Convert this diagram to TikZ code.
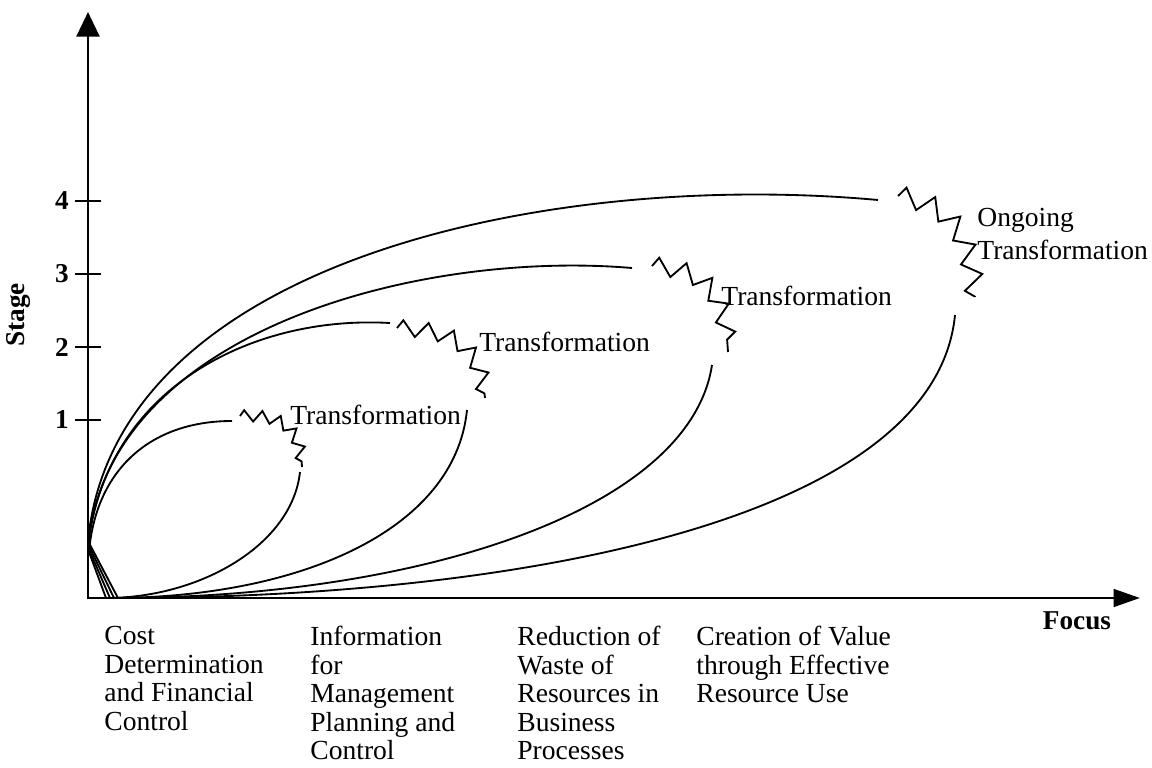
\documentclass[tikz,border=0pt]{standalone}
\usepackage{fontspec}
\setmainfont{Liberation Serif}
\usetikzlibrary{arrows.meta,decorations.pathmorphing}

\begin{document}
\begin{tikzpicture}[x=0.02cm,y=-0.02cm,
  axis/.style={line width=1.6pt},
  tickmark/.style={line width=1pt},
  curve/.style={line width=1.05pt},
  zig/.style 2 args={line width=1.05pt, line join=miter, decorate,
    decoration={zigzag, segment length=#1, amplitude=#2}},
  lbl/.style={font=\fontsize{15.7pt}{18.7pt}\selectfont, inner sep=0pt},
  cat/.style={font=\fontsize{15.7pt}{16.2pt}\selectfont, inner sep=0pt,
    anchor=north west, align=left},
  bold/.style={font=\fontsize{15.5pt}{18pt}\selectfont\bfseries, inner sep=0pt}]
\useasboundingbox (0,0) rectangle (1152,767);

% axes
\coordinate (O) at (88,598);
\coordinate (ytop) at (88,12);
\coordinate (xend) at (1140,598);
\draw[axis, {Triangle[length=14pt,width=13pt]}-{Triangle[length=15pt,width=10pt]}]
  (ytop) -- (O) -- (xend);

% stage ticks and numbers
\foreach \s/\y in {4/201,3/274,2/347,1/420}{
  \draw[tickmark] (75,\y) -- (101,\y);
  \node[bold] (n\s) at (62,\y) {\s};
}
\node[bold, rotate=90] (stage) at (18,315) {Stage};
\node[bold] (focus) at (1077,621) {Focus};

% loop 1
\coordinate (a1) at (89,552);
\coordinate (b1) at (232,421);
\draw[curve] (a1) .. controls (96,470) and (150,421) .. (b1);
\coordinate (z1s) at (240,416);
\coordinate (z1e) at (302,467);
\draw[zig={10pt}{3.2pt}] (z1s) .. controls (285,414) and (300,430) .. (z1e);
\coordinate (c1) at (300,472);
\coordinate (d1) at (106,598);
\draw[curve] (c1) .. controls (292,545) and (200,598) .. (d1) -- (a1);

% loop 2
\coordinate (a2) at (88,547);
\coordinate (b2) at (390,323);
\draw[curve] (a2) .. controls (105,390) and (250,315) .. (b2);
\coordinate (z2s) at (397,328);
\coordinate (z2e) at (485,398);
\draw[zig={14pt}{4.5pt}] (z2s) .. controls (460,330) and (480,350) .. (z2e);
\coordinate (c2) at (467,410);
\coordinate (d2) at (110,598);
\draw[curve] (c2) .. controls (455,530) and (300,598) .. (d2) -- (a2);

% loop 3
\coordinate (a3) at (88,544);
\coordinate (b3) at (632,268);
\draw[curve] (a3) .. controls (110,330) and (420,250) .. (b3);
\coordinate (z3s) at (652,266);
\coordinate (z3e) at (728,352);
\draw[zig={15pt}{5pt}] (z3s) .. controls (705,270) and (725,290) .. (z3e);
\coordinate (c3) at (712,365);
\coordinate (d3) at (114,598);
\draw[curve] (c3) .. controls (690,510) and (420,598) .. (d3) -- (a3);

% loop 4
\coordinate (a4) at (88,541);
\coordinate (b4) at (878,200);
\draw[curve] (a4) .. controls (115,260) and (550,170) .. (b4);
\coordinate (z4s) at (898,196);
\coordinate (z4e) at (975,297);
\draw[zig={16pt}{5.5pt}] (z4s) .. controls (950,205) and (970,230) .. (z4e);
\coordinate (c4) at (955,315);
\coordinate (d4) at (118,598);
\draw[curve] (c4) .. controls (935,520) and (520,598) .. (d4) -- (a4);

% transformation labels
\node[lbl, anchor=west] (t1) at (290,415) {Transformation};
\node[lbl, anchor=west] (t2) at (479,342) {Transformation};
\node[lbl, anchor=west] (t3) at (721,296) {Transformation};
\node[lbl, anchor=west, align=left] (t4) at (977,234) {Ongoing\\Transformation};

% focus categories
\node[cat] (f1) at (104,626) {Cost\\Determination\\and Financial\\Control};
\node[cat] (f2) at (310,626) {Information\\for\\Management\\Planning and\\Control};
\node[cat] (f3) at (517,626) {Reduction of\\Waste of\\Resources in\\Business\\Processes};
\node[cat] (f4) at (696,626) {Creation of Value\\through Effective\\Resource Use};
\end{tikzpicture}
\end{document}
